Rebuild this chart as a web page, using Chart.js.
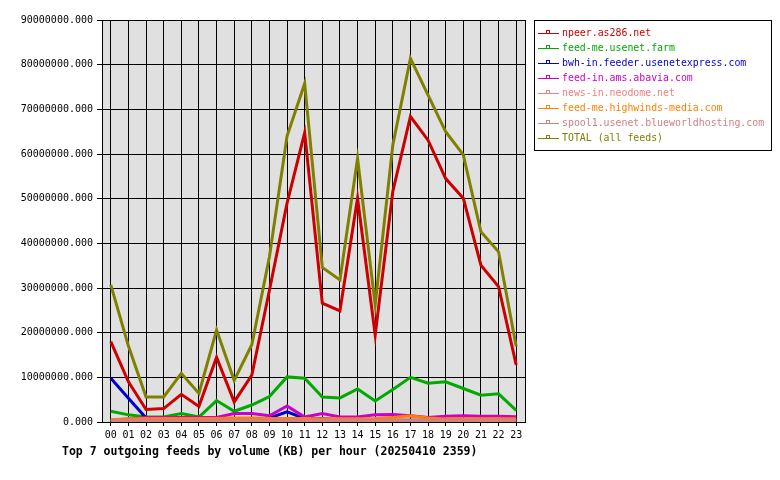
<!DOCTYPE html>
<html>
<head>
<meta charset="utf-8">
<script src="https://cdn.jsdelivr.net/npm/chart.js@4.4.1/dist/chart.umd.min.js"></script>
<style>
    html, body { margin: 0; padding: 0; background: #fff; }
</style>
</head>
<body>
<canvas id="feedChart" width="780" height="480"></canvas>
<script>
// hourly outgoing volume (KB)
const hours = ['00','01','02','03','04','05','06','07','08','09','10','11',
               '12','13','14','15','16','17','18','19','20','21','22','23'];

const npeer     = [18.0e6, 9.0e6, 2.8e6, 3.0e6, 6.2e6, 3.5e6, 14.5e6, 4.5e6, 10.5e6, 29.5e6, 49.0e6, 64.8e6,
                   26.6e6, 24.9e6, 50.1e6, 19.5e6, 51.6e6, 68.4e6, 63.1e6, 54.5e6, 50.1e6, 35.1e6, 30.3e6, 12.8e6];
const usenetFarm = [2.4e6, 1.6e6, 1.1e6, 1.1e6, 1.9e6, 1.1e6, 4.8e6, 2.4e6, 3.8e6, 5.7e6, 10.1e6, 9.8e6,
                   5.6e6, 5.4e6, 7.4e6, 4.7e6, 7.3e6, 10.0e6, 8.7e6, 9.0e6, 7.5e6, 6.0e6, 6.3e6, 2.6e6];
const usenetExpress = [9.8e6, 5.3e6, 0.9e6, 0.6e6, 0.6e6, 0.5e6, 0.5e6, 0.5e6, 0.6e6, 0.9e6, 2.3e6, 0.8e6,
                   0.8e6, 0.5e6, 0.4e6, 0.4e6, 0.4e6, 0.4e6, 0.4e6, 0.4e6, 0.4e6, 0.4e6, 0.4e6, 0.4e6];
const abavia    = [0.4e6, 0.7e6, 1.0e6, 1.0e6, 1.0e6, 1.0e6, 1.0e6, 1.9e6, 1.9e6, 1.4e6, 3.6e6, 1.1e6,
                   1.9e6, 1.1e6, 1.1e6, 1.6e6, 1.7e6, 1.4e6, 1.0e6, 1.3e6, 1.4e6, 1.3e6, 1.3e6, 1.2e6];
const neodome   = [0.3e6, 0.3e6, 0.3e6, 0.3e6, 0.3e6, 0.3e6, 0.3e6, 0.3e6, 0.3e6, 0.3e6, 0.3e6, 0.3e6,
                   0.3e6, 0.3e6, 0.3e6, 0.3e6, 0.3e6, 0.3e6, 0.3e6, 0.3e6, 0.3e6, 0.3e6, 0.3e6, 0.3e6];
const highwinds = [0.5e6, 0.7e6, 0.8e6, 0.8e6, 0.8e6, 0.8e6, 0.8e6, 0.9e6, 0.9e6, 0.8e6, 0.8e6, 0.8e6,
                   0.7e6, 0.7e6, 0.7e6, 0.8e6, 1.0e6, 1.4e6, 0.9e6, 0.7e6, 0.7e6, 0.7e6, 0.7e6, 0.7e6];
const blueworld = [0.4e6, 0.4e6, 0.4e6, 0.4e6, 0.4e6, 0.4e6, 0.4e6, 0.4e6, 0.4e6, 0.4e6, 0.4e6, 0.4e6,
                   0.4e6, 0.4e6, 0.4e6, 0.4e6, 0.4e6, 0.4e6, 0.4e6, 0.4e6, 0.4e6, 0.4e6, 0.4e6, 0.4e6];
const total     = [30.7e6, 17.0e6, 5.6e6, 5.6e6, 10.9e6, 6.4e6, 20.6e6, 9.3e6, 17.3e6, 37.0e6, 64.0e6, 75.8e6,
                   34.6e6, 31.8e6, 59.0e6, 26.2e6, 62.0e6, 81.4e6, 73.2e6, 65.0e6, 59.8e6, 42.6e6, 38.1e6, 16.9e6];

const feedNames = ['npeer.as286.net', 'feed-me.usenet.farm', 'bwh-in.feeder.usenetexpress.com',
                   'feed-in.ams.abavia.com', 'news-in.neodome.net', 'feed-me.highwinds-media.com',
                   'spool1.usenet.blueworldhosting.com', 'TOTAL (all feeds)'];
const feedColors = ['#cc0000', '#00aa00', '#0000cc', '#cc00cc', '#f08080', '#ff8000', '#d08080', '#808000'];
const feedValues = [npeer, usenetFarm, usenetExpress, abavia, neodome, highwinds, blueworld, total];

const yTickMax = 90000000;
const yTickStep = 10000000;
const chartTitle = 'Top 7 outgoing feeds by volume (KB) per hour (20250410 2359)';

const monoFont = '"DejaVu Sans Mono", "Liberation Mono", monospace';

// grey plot background + right/top frame
const plotFrame = {
    id: 'plotFrame',
    beforeDraw(chart) {
        const a = chart.chartArea;
        const ctx = chart.ctx;
        ctx.save();
        ctx.fillStyle = '#e0e0e0';
        ctx.fillRect(a.left, a.top, a.right - a.left, a.bottom - a.top);
        ctx.restore();
    },
    beforeDatasetsDraw(chart) {
        const a = chart.chartArea;
        const ctx = chart.ctx;
        ctx.save();
        ctx.strokeStyle = '#000';
        ctx.lineWidth = 1;
        ctx.strokeRect(Math.round(a.left) + 0.5, Math.round(a.top) + 0.5,
                       Math.round(a.right - a.left), Math.round(a.bottom - a.top));
        ctx.restore();
    }
};

// boxed legend on the right + title under the x axis
const boxedLegend = {
    id: 'boxedLegend',
    afterDraw(chart) {
        const ctx = chart.ctx;
        ctx.save();
        ctx.strokeStyle = '#000';
        ctx.lineWidth = 1;
        ctx.strokeRect(534.5, 20.5, 237, 130);
        ctx.font = '9.9px ' + monoFont;
        ctx.textBaseline = 'middle';
        chart.data.datasets.forEach((ds, i) => {
            const y = 33 + i * 15;
            ctx.strokeStyle = ds.borderColor;
            ctx.beginPath();
            ctx.moveTo(538, y + 0.5);
            ctx.lineTo(559, y + 0.5);
            ctx.stroke();
            ctx.strokeRect(546.5, y - 2.5, 3, 3);
            ctx.fillStyle = ds.borderColor;
            ctx.fillText(ds.label, 562, y);
        });

        ctx.fillStyle = '#000';
        ctx.font = 'bold 11.5px ' + monoFont;
        ctx.fillText(chartTitle, 62, 452);
        ctx.restore();
    }
};

const ctx = document.getElementById('feedChart');
new Chart(ctx, {
    type: 'line',
    data: {
        labels: hours,
        datasets: feedValues.map((vals, i) => ({
            label: feedNames[i],
            data: vals,
            borderColor: feedColors[i],
            backgroundColor: feedColors[i],
            borderWidth: 3,
            pointRadius: 0,
            tension: 0,
            fill: false,
            order: -i // later feeds on top, TOTAL last
        }))
    },
    options: {
        responsive: false,
        animation: false,
        layout: {
            padding: { left: 0, right: 255, top: 20, bottom: 39 }
        },
        plugins: {
            legend: { display: false },
            tooltip: { enabled: false },
            title: { display: false }
        },
        scales: {
            x: {
                type: 'category',
                offset: true,
                afterFit: s => { s.height = 19; },
                grid: {
                    color: '#000',
                    lineWidth: 1,
                    offset: false,
                    drawTicks: true,
                    tickLength: 4
                },
                border: { color: '#000', width: 1 },
                ticks: {
                    color: '#000',
                    font: { family: monoFont, size: 10 },
                    padding: 3,
                    maxRotation: 0,
                    autoSkip: false
                }
            },
            y: {
                min: 0,
                max: yTickMax,
                afterFit: s => { s.width = 102; },
                grid: {
                    color: '#000',
                    lineWidth: 1,
                    drawTicks: true,
                    tickLength: 5
                },
                border: { color: '#000', width: 1 },
                ticks: {
                    stepSize: yTickStep,
                    color: '#000',
                    font: { family: monoFont, size: 10 },
                    padding: 4,
                    callback: function(value) {
                        return value.toFixed(3);
                    }
                }
            }
        }
    },
    plugins: [plotFrame, boxedLegend]
});
</script>
</body>
</html>
